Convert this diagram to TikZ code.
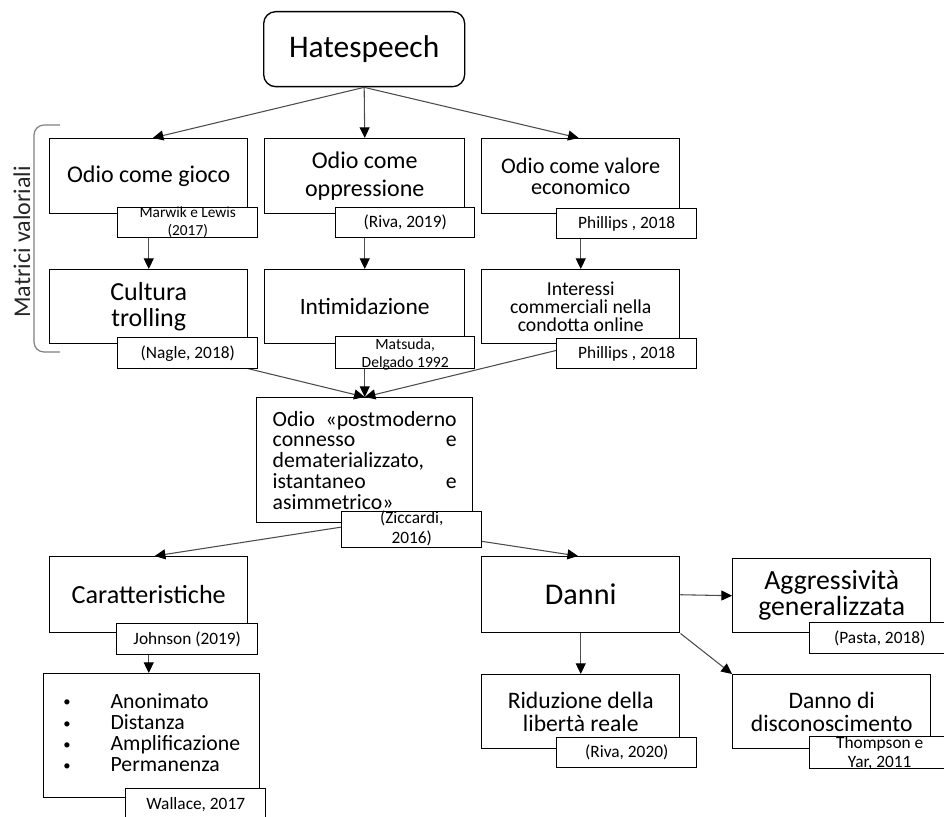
\documentclass[tikz,border=0pt]{standalone}
\usepackage{fontspec}
\setmainfont{Carlito}
\usetikzlibrary{arrows.meta}
\newcommand\fsz[2]{\fontsize{#1pt}{#2pt}\selectfont}
\newcommand\smallbul{\raisebox{1.2pt}{\fsz{11}{11}•}}
\begin{document}
\begin{tikzpicture}[x=0.75pt,y=-0.75pt,
  box/.style={draw=black, line width=1.1pt, fill=white, inner sep=0pt, align=center, anchor=north west},
  sz/.style 2 args={minimum width=#1*0.75pt, minimum height=#2*0.75pt},
  cite/.style={box, font=\fsz{13}{14}},
  citetxt/.style={inner sep=0pt, align=center, anchor=north},
  arr/.style={draw=black!70, line width=0.8pt, -{Triangle[length=8pt,width=7.5pt,color=black]}},
]
\useasboundingbox (0,0) rectangle (944,816);

% bracket and label
\draw[black!50, line width=0.9pt, rounded corners=7.5pt] (60,125) -- (34,125) -- (34,352) -- (60,352);
\node[rotate=90, font=\fsz{18}{20}, text=black!85] (mv) at (22,242) {Matrici valoriali};

% main boxes
\node[box, sz={201}{75}, rounded corners=9pt, line width=1pt, font=\fsz{23.6}{28}] (hs) at (263,11) {Hatespeech};
\node[box, sz={198}{75}, font=\fsz{18}{21}] (g1) at (49,138) {Odio come gioco};
\node[box, sz={200}{75}, font=\fsz{18}{21.5}] (g2) at (264,138) {Odio come\\oppressione};
\node[box, sz={198}{75}, font=\fsz{16.7}{15.5}] (g3) at (481,138) {Odio come valore\\economico};

\node[box, sz={198}{74}, font=\fsz{19.5}{19}] (r1) at (49,269) {Cultura\\trolling};
\node[box, sz={200}{74}, font=\fsz{17.6}{21}] (r2) at (264,269) {Intimidazione};
\node[box, sz={198}{74}, font=\fsz{14.8}{13.7}] (r3) at (481,269) {Interessi\\commerciali nella\\condotta online};

\node[box, sz={216}{125}, font=\fsz{16.3}{15.6}, text width=138pt, align=left] (pm) at (256,397) {Odio\hfill«postmoderno\\connesso\hfill e\\dematerializzato,\\istantaneo\hfill e\\asimmetrico»};

\node[box, sz={198}{76}, font=\fsz{19.6}{23}] (car) at (49,556) {Caratteristiche};
\node[box, sz={216}{124}, font=\fsz{16.3}{15.6}] (lst) at (43,673) {\begin{tabular}{@{}l@{\hspace{30pt}}l@{}}\smallbul&Anonimato\\\smallbul&Distanza\\\smallbul&Amplificazione\\\smallbul&Permanenza\end{tabular}};

\node[box, sz={198}{76}, font=\fsz{22.6}{26}] (dan) at (481,556) {Danni};
\node[box, sz={198}{74}, font=\fsz{20.8}{19.5}] (agg) at (732,558) {Aggressività\\generalizzata};
\node[box, sz={198}{74}, font=\fsz{17.7}{17.3}] (rid) at (481,674) {Riduzione della\\libertà reale};
\node[box, sz={198}{74}, font=\fsz{17.7}{17.3}] (dd) at (732,674) {Danno di\\disconoscimento};

% connectors
\draw[arr] (hs.south) -- ([xshift=3pt]g1.north);
\draw[arr] (hs.south) -- (g2.north);
\draw[arr] (hs.south) -- ([xshift=-1.5pt]g3.north);
\draw[arr] (g1.south) -- (r1.north);
\draw[arr] (g2.south) -- (r2.north);
\draw[arr] (g3.south) -- (r3.north);
\draw[arr] (r1.south) -- (pm.north);
\draw[arr] (r2.south) -- (pm.north);
\draw[arr] (r3.south) -- (pm.north);
\draw[arr] (pm.south) -- ([xshift=4.5pt]car.north);
\draw[arr] (pm.south) -- ([xshift=-2pt]dan.north);
\draw[arr] (car.south) -- (car.south |- lst.north);
\draw[arr] (dan.east) -- (agg.west);
\draw[arr] (dan.south) -- (rid.north);
\draw[arr] (dan.south east) -- (dd.north west);

% citation boxes
\node[cite, sz={140}{30}] (c1) at (117,207) {};
\node[citetxt, font=\fsz{11.5}{13.5}] (c1t) at (c1.north) {Marwik e Lewis\\(2017)};
\node[cite, sz={139}{30}] (c2) at (335,207) {(Riva, 2019)};
\node[cite, sz={140}{30}] (c3) at (556,208) {Phillips , 2018};

\node[cite, sz={140}{31}] (d1) at (117,337) {(Nagle, 2018)};
\node[cite, sz={139}{32}] (d2) at (335,336) {};
\node[citetxt, font=\fsz{11.7}{13.5}, yshift=-1.5pt] (d2t) at (d2.north) {Matsuda,\\Delgado 1992};
\node[cite, sz={140}{30}] (d3) at (556,338) {Phillips , 2018};

\node[cite, sz={140}{36}] (zc) at (341,511) {};
\node[citetxt, font=\fsz{13}{15}] (zct) at (zc.north) {(Ziccardi,\\2016)};

\node[cite, sz={141}{31}] (jo) at (116,623) {Johnson (2019)};
\node[cite, sz={140}{32}] (wa) at (125,788) {Wallace, 2017};

\node[cite, sz={140}{31}] (pa) at (809,622) {(Pasta, 2018)};
\node[cite, sz={140}{30}] (rv) at (556,737) {(Riva, 2020)};
\node[cite, sz={140}{32}] (th) at (809,736) {};
\node[citetxt, font=\fsz{13}{14.3}] (tht) at (th.north) {Thompson e\\Yar, 2011};
\end{tikzpicture}
\end{document}
